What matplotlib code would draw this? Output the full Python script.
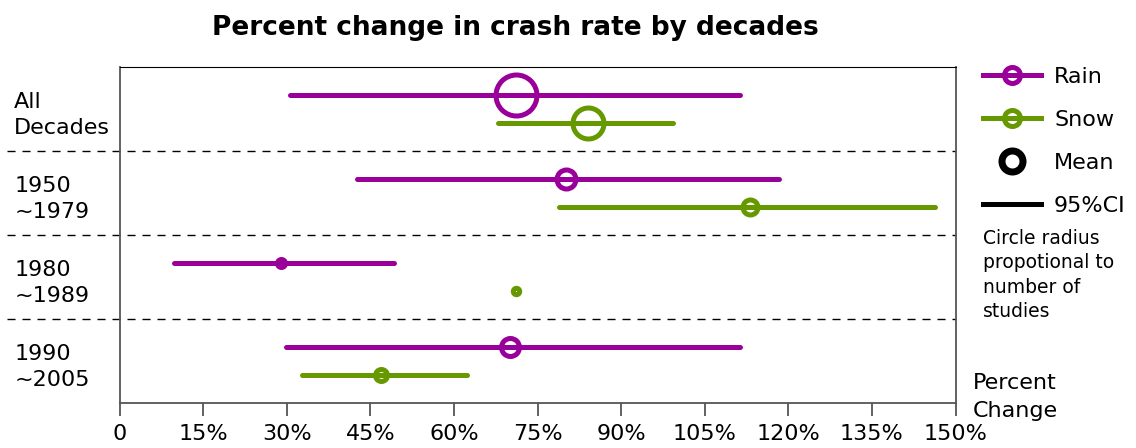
import matplotlib
matplotlib.use("Agg")
import matplotlib.pyplot as plt
import numpy as np
from matplotlib.lines import Line2D

# data (percent change)
groups = ["All\nDecades", "1950\n~1979", "1980\n~1989", "1990\n~2005"]
rain_mean = [71.1, 80.1, 29.0, 70.1]
rain_lo = [30.6, 42.7, 9.8, 29.8]
rain_hi = [111.3, 118.3, 49.3, 111.3]
snow_mean = [84.1, 113.1, 71.1, 46.9]
snow_lo = [67.9, 78.9, np.nan, 32.8]
snow_hi = [99.4, 146.4, np.nan, 62.3]
# circle radius (proportional to number of studies), in pixels
rain_radius = [20.5, 9.5, 4.0, 9.0]
snow_radius = [15.5, 7.5, 3.2, 6.0]
xticks = [0, 15, 30, 45, 60, 75, 90, 105, 120, 135, 150]
xticklabels = ["0"] + [f"{v}%" for v in xticks[1:]]

purple = "#990099"
green = "#669900"

plt.rcParams['font.family'] = ['DejaVu Sans']
fig = plt.figure(figsize=(11.36, 4.48), dpi=100)
ax = fig.add_axes([119.5/1136, 45/448, 836/1136, 336/448])

px = 72/100  # pixel -> point
lw = 5*px
for i in range(len(groups)):
    y_r = i + 1/3
    y_s = i + 2/3
    ax.plot([rain_lo[i], rain_hi[i]], [y_r, y_r], color=purple, lw=lw, solid_capstyle='round')
    ax.plot(rain_mean[i], y_r, 'o', ms=2*rain_radius[i]*px, mfc='none', mec=purple, mew=lw)
    if not np.isnan(snow_lo[i]):
        ax.plot([snow_lo[i], snow_hi[i]], [y_s, y_s], color=green, lw=lw, solid_capstyle='round')
    ax.plot(snow_mean[i], y_s, 'o', ms=2*snow_radius[i]*px, mfc='none', mec=green, mew=lw)

for k in range(1, len(groups)):
    ax.axhline(k, xmin=-0.1346, xmax=1, color='black', lw=1, ls=(0, (5.8, 5)), clip_on=False)

ax.set_xlim(0, 150)
ax.set_ylim(len(groups), 0)
ax.set_xticks(xticks, xticklabels, fontsize=16)
ax.tick_params(axis='x', direction='out', length=13*px, width=1.3, color='#555555', pad=6)
ax.set_yticks([])
for s in ['left', 'bottom', 'right']:
    ax.spines[s].set_color('#555555')
    ax.spines[s].set_linewidth(1.3)
ax.spines['top'].set_color('black')

for i, g in enumerate(groups):
    ax.text(-0.126, i + 0.57, g, transform=ax.get_yaxis_transform(), ha='left', va='center',
            fontsize=16, linespacing=1.4)

fig.text(515.5/1136, 1 - 28/448, "Percent change in crash rate by decades", ha='center', va='center',
         fontsize=19, fontweight='bold')

handles = [
    Line2D([], [], color=purple, lw=lw, marker='o', ms=16*px, mfc='none', mec=purple, mew=lw),
    Line2D([], [], color=green, lw=lw, marker='o', ms=16*px, mfc='none', mec=green, mew=lw),
    Line2D([], [], ls='none', marker='o', ms=21*px, mfc='none', mec='black', mew=7*px),
    Line2D([], [], color='black', lw=lw),
]
fig.legend(handles, ["Rain", "Snow", "Mean", "95%CI"], loc='upper left',
           bbox_to_anchor=(983/1136, 1 - 67/448), frameon=False, fontsize=16,
           borderpad=0, borderaxespad=0, handlelength=2.6, handletextpad=0.6,
           labelspacing=1.03)

fig.text(983/1136, 1 - 229/448, "Circle radius\npropotional to\nnumber of\nstudies",
         ha='left', va='top', fontsize=13.5, linespacing=1.36)
fig.text(973/1136, 1 - 373/448, "Percent\nChange", ha='left', va='top', fontsize=16,
         linespacing=1.5)

fig.savefig("out.png", dpi=100)
